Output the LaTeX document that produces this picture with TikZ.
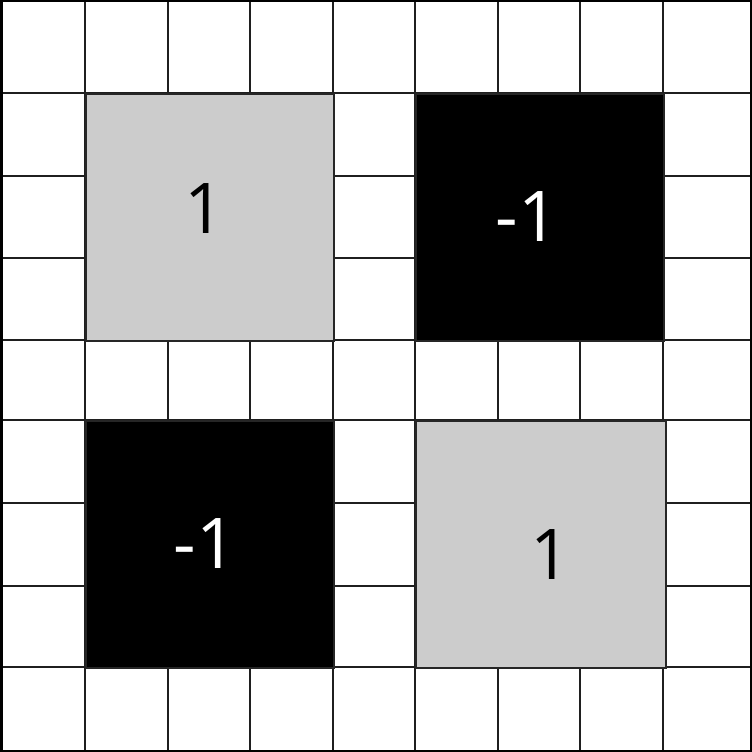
\documentclass[tikz,border=0pt]{standalone}
\usepackage{fontspec}
\setmainfont{Open Sans}
\begin{document}
\begin{tikzpicture}[x=1pt,y=-1pt,
  gridline/.style={draw=black!88,line width=1.5pt},
  bigbox/.style={draw=black!85,line width=1.5pt,minimum width=248pt,minimum height=247pt,inner sep=0pt,anchor=north west},
  graybox/.style={bigbox,fill=black!20,text=black},
  blackbox/.style={bigbox,fill=black,text=white},
  numlabel/.style={font=\fontsize{70}{84}\selectfont,inner sep=0pt}]
\useasboundingbox (0,0) rectangle (752,752);
\fill[white] (0,0) rectangle (752,752);
% grid lines
\foreach \x in {85,168,250,333,415,498,580,663}
  \draw[gridline] (\x,1) -- (\x,751);
\foreach \y in {93,176,258,340,420,503,586,667}
  \draw[gridline] (1,\y) -- (751,\y);
% big boxes
\node[graybox] (g1) at (85,93) {};
\node[blackbox] (b1) at (415,93) {};
\node[blackbox] (b2) at (85,420) {};
\node[graybox,minimum width=250pt] (g2) at (415,420) {};
% labels
\node[numlabel,text=black] (l1) at ([xshift=-5pt,yshift=8.5pt]g1.center) {1};
\node[numlabel,text=white] (l2) at ([xshift=-13pt,yshift=0.5pt]b1.center) {-1};
\node[numlabel,text=white] (l3) at ([xshift=-5pt,yshift=1pt]b2.center) {-1};
\node[numlabel,text=black] (l4) at ([xshift=10pt,yshift=-10.5pt]g2.center) {1};
% outer frame
\draw[black,line width=2.5pt] (1.25,1.25) rectangle (750.75,750.75);
\end{tikzpicture}
\end{document}
